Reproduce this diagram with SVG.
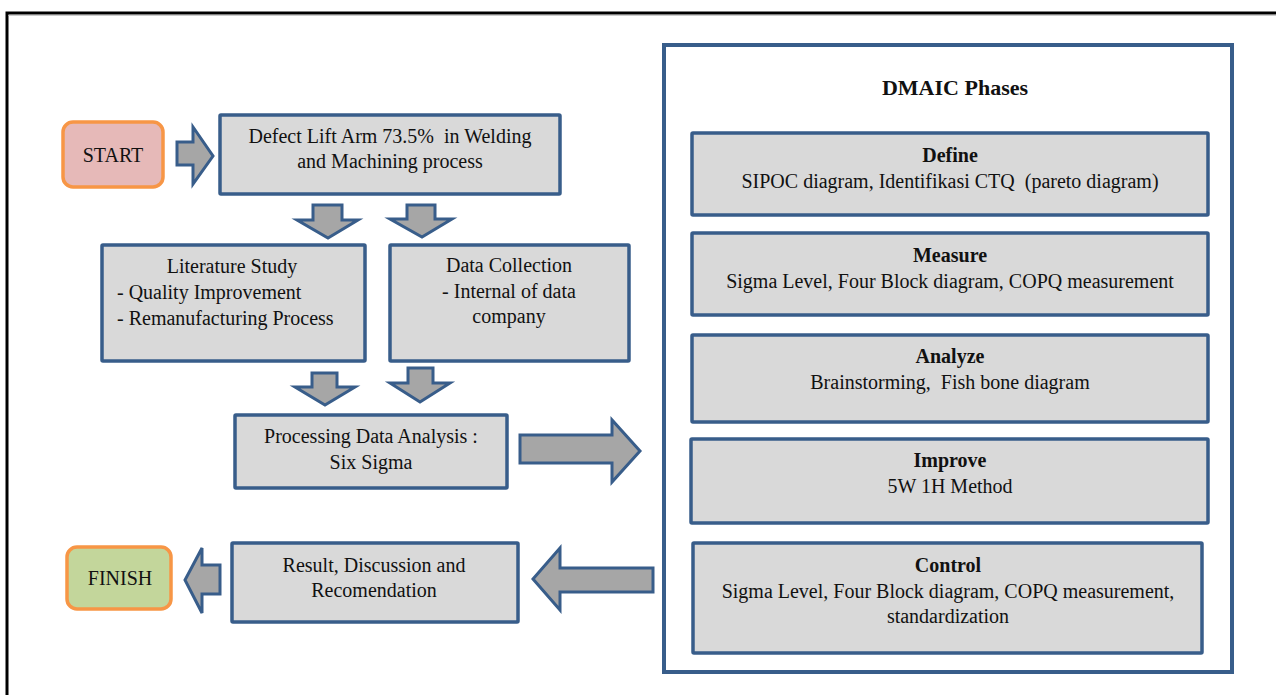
<svg xmlns="http://www.w3.org/2000/svg" width="1276" height="695" viewBox="0 0 1276 695">
<style>
text{font-family:"Liberation Serif","Times New Roman",serif;font-size:20px;fill:#111;white-space:pre}
.c{text-anchor:middle}
.b{font-weight:bold}
.box{fill:#D9D9D9;stroke:#385D8A;stroke-width:3.5}
.arr{fill:#A6A6A6;stroke:#385D8A;stroke-width:3;stroke-linejoin:miter}
.term{stroke:#F79646;stroke-width:3.5}
</style>
<rect x="0" y="0" width="1276" height="695" fill="#fff"/>
<path d="M7,700 V13 H1280" fill="none" stroke="#000" stroke-width="3"/>
<path d="M8.5,15.5 H1280" fill="none" stroke="#ccc" stroke-width="1"/>

<g id="connectors">
<path class="arr" d="M177,142 H193 V127 L213,156 L193,184 V165 H177 Z"/>
<path class="arr" d="M313,205 H342 V220 H358 L328,238 L297,220 H313 Z"/>
<path class="arr" d="M407,205 H435 V219 H452 L422,237 L390,219 H407 Z"/>
<path class="arr" d="M312,373 H337 V387 H355 L325,405 L295,387 H312 Z"/>
<path class="arr" d="M408,368 H433 V383 H450 L420,402 L390,383 H408 Z"/>
<path class="arr" d="M520,435 H612 V420 L640,451 L612,482 V463 H520 Z"/>
<path class="arr" d="M653,568 H560 V548 L533,579 L560,610 V592 H653 Z"/>
<path class="arr" d="M220,565 H202 V548 L185,580 L202,613 V594 H220 Z"/>
</g>

<g id="start">
<rect class="term" x="63" y="122" width="100" height="65" rx="10" fill="#E6B9B8"/>
<text class="c" x="113" y="162">START</text>
</g>

<g id="defect">
<rect class="box" x="220" y="115" width="340" height="79" rx="1"/>
<text class="c" x="390" y="143">Defect Lift Arm 73.5%  in Welding</text>
<text class="c" x="390" y="168">and Machining process</text>
</g>

<g id="literature">
<rect class="box" x="102" y="245" width="263" height="116" rx="1"/>
<text class="c" x="232" y="273">Literature Study</text>
<text x="117" y="299">- Quality Improvement</text>
<text x="117" y="325">- Remanufacturing Process</text>
</g>

<g id="datacollection">
<rect class="box" x="390" y="245" width="239" height="116" rx="1"/>
<text class="c" x="509" y="272">Data Collection</text>
<text class="c" x="509" y="298">- Internal of data</text>
<text class="c" x="509" y="323">company</text>
</g>

<g id="processing">
<rect class="box" x="235" y="415" width="272" height="73" rx="1"/>
<text class="c" x="371" y="443">Processing Data Analysis :</text>
<text class="c" x="371" y="469">Six Sigma</text>
</g>

<g id="result">
<rect class="box" x="232" y="543" width="286" height="79" rx="1"/>
<text class="c" x="374" y="572">Result, Discussion and</text>
<text class="c" x="374" y="597">Recomendation</text>
</g>

<g id="finish">
<rect class="term" x="67" y="547" width="104" height="62" rx="10" fill="#C3D69B"/>
<text class="c" x="120" y="585">FINISH</text>
</g>

<g id="dmaic">
<rect x="664" y="45" width="568" height="627" fill="#fff" stroke="#385D8A" stroke-width="4"/>
<text class="c b" x="955" y="95" style="font-size:22px">DMAIC Phases</text>
</g>

<g id="define">
<rect class="box" x="692" y="133" width="516" height="82" rx="1"/>
<text class="c b" x="950" y="162">Define</text>
<text class="c" x="950" y="188">SIPOC diagram, Identifikasi CTQ  (pareto diagram)</text>
</g>

<g id="measure">
<rect class="box" x="692" y="233" width="516" height="82" rx="1"/>
<text class="c b" x="950" y="262">Measure</text>
<text class="c" x="950" y="288">Sigma Level, Four Block diagram, COPQ measurement</text>
</g>

<g id="analyze">
<rect class="box" x="692" y="335" width="516" height="87" rx="1"/>
<text class="c b" x="950" y="363">Analyze</text>
<text class="c" x="950" y="389">Brainstorming,  Fish bone diagram</text>
</g>

<g id="improve">
<rect class="box" x="691" y="439" width="517" height="84" rx="1"/>
<text class="c b" x="950" y="467">Improve</text>
<text class="c" x="950" y="493">5W 1H Method</text>
</g>

<g id="control">
<rect class="box" x="693" y="543" width="509" height="110" rx="1"/>
<text class="c b" x="948" y="572">Control</text>
<text class="c" x="948" y="598">Sigma Level, Four Block diagram, COPQ measurement,</text>
<text class="c" x="948" y="623">standardization</text>
</g>
</svg>
